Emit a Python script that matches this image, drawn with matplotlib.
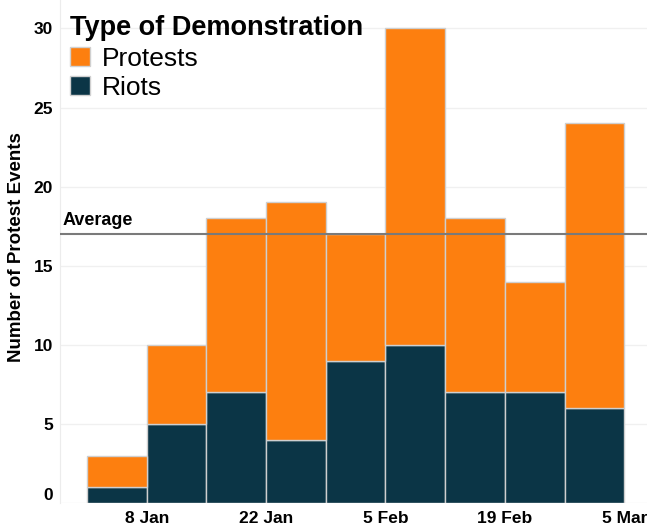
import numpy as np
import pandas as pd
import matplotlib
matplotlib.use("Agg")
import matplotlib.pyplot as plt
import matplotlib.dates as mdates
from matplotlib.patches import Patch

plt.rcParams['font.family'] = ['Liberation Sans', 'DejaVu Sans']

# weekly counts
weeks = pd.date_range("2023-01-01", periods=9, freq="7D")
riots = [1, 5, 7, 4, 9, 10, 7, 7, 6]
protests = [2, 5, 11, 15, 8, 20, 11, 7, 18]
tick_dates = pd.to_datetime(["2023-01-08", "2023-01-22", "2023-02-05", "2023-02-19", "2023-03-05"])
tick_labels = ["8 Jan", "22 Jan", "5 Feb", "19 Feb", "5 Mar"]

orange = "#fd7f0f"
navy = "#0b3546"

totals = np.array(riots) + np.array(protests)
average = totals.mean()

W, H = 647, 526
fig = plt.figure(figsize=(W / 100, H / 100), dpi=100)
ax = fig.add_axes([60 / W, 23 / H, 1 - 60 / W, 1 - 23 / H])

x = mdates.date2num(weeks)
ax.bar(x, riots, width=7, align="edge", color=navy, edgecolor="#cfcfcf", linewidth=1, zorder=2)
ax.bar(x, protests, bottom=riots, width=7, align="edge", color=orange,
       edgecolor="#cfcfcf", linewidth=1, zorder=2)

x0 = mdates.date2num(pd.Timestamp("2022-12-28 20:00"))
ax.axhline(average, color="#7a7a7a", linewidth=1.5, zorder=3)
ax.text(x0 + 0.3, average + 0.35, "Average",
        fontsize=13, fontweight="bold", ha="left", va="bottom")

ax.set_xlim(x0, mdates.date2num(pd.Timestamp("2023-03-07 16:00")))
ax.set_ylim(0, 31.8)
ax.set_xticks(mdates.date2num(tick_dates))
ax.set_xticklabels(tick_labels, fontsize=12.5, fontweight="bold")
ax.set_yticks([0, 5, 10, 15, 20, 25, 30])
ax.set_yticklabels(["0", "5", "10", "15", "20", "25", "30"], fontsize=12.5, fontweight="bold")
ax.tick_params(axis="x", length=0, pad=6)
ax.tick_params(axis="y", length=0, pad=5)
ax.yaxis.get_ticklabels()[0].set_verticalalignment("bottom")
ax.grid(axis="y", color="#f0f0f0", linewidth=1, zorder=0)
for s in ["top", "right", "bottom"]:
    ax.spines[s].set_visible(False)
ax.spines["left"].set_color("#ececec")
fig.text(17 / W, 1 - 247 / H, "Number of Protest Events", rotation=90,
         fontsize=13.5, fontweight="bold", ha="center", va="center")

handles = [Patch(facecolor=orange, edgecolor="#d0d0d0"), Patch(facecolor=navy, edgecolor="#d0d0d0")]
leg = ax.legend(handles, ["Protests", "Riots"], loc="upper left",
                bbox_to_anchor=(52 / W, 1 + 3 / H), bbox_transform=fig.transFigure,
                frameon=False, fontsize=19, title="Type of Demonstration",
                title_fontproperties={"size": 19.5, "weight": "bold"},
                alignment="left", handlelength=0.75, handleheight=0.75,
                handletextpad=0.45, labelspacing=0.2, borderpad=0.2)

fig.savefig("out.png", dpi=100)
